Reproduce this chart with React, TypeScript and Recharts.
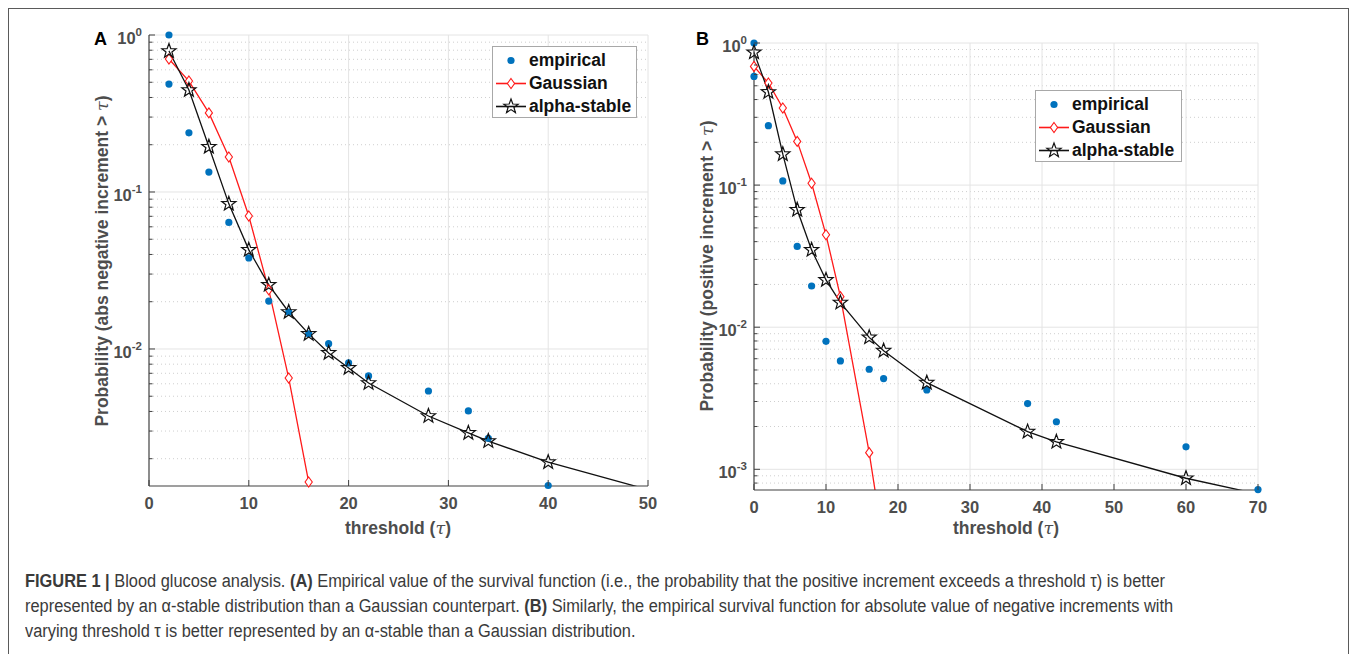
import { ComposedChart, Line, ReferenceLine, Scatter, XAxis, YAxis } from "recharts";

// ---- panel A : abs negative increments ----
const empiricalXA = [2, 2, 4, 6, 8, 10, 12, 14, 16, 18, 20, 22, 28, 32, 34, 40];
const empiricalA = [1.0, 0.487, 0.238, 0.134, 0.064, 0.038, 0.0202, 0.0172, 0.0125, 0.0108, 0.00815, 0.00673, 0.0054, 0.00403, 0.0027, 0.00135];
const gaussianXA = [2, 4, 6, 8, 10, 12, 14, 16];
const gaussianA = [0.703, 0.509, 0.319, 0.167, 0.0703, 0.0238, 0.00653, 0.00142];
const stableXA = [2, 4, 6, 8, 10, 12, 14, 16, 18, 20, 22, 28, 32, 34, 40];
const stableA = [0.79, 0.446, 0.194, 0.084, 0.0428, 0.0256, 0.0172, 0.01247, 0.00944, 0.00757, 0.00607, 0.00374, 0.00292, 0.00259, 0.0019];
const stableTailXA = [50];
const stableTailA = [0.00127];

// ---- panel B : positive increments ----
const empiricalXB = [0, 0, 2, 4, 6, 8, 10, 12, 16, 18, 24, 38, 42, 60, 70];
const empiricalB = [1.0, 0.582, 0.262, 0.107, 0.037, 0.0195, 0.00795, 0.00579, 0.00506, 0.00435, 0.00362, 0.0029, 0.00216, 0.00144, 0.00072];
const gaussianXB = [0, 2, 4, 6, 8, 10, 12, 16];
const gaussianB = [0.684, 0.523, 0.349, 0.203, 0.103, 0.0447, 0.0164, 0.00131];
const gaussianTailXB = [18];
const gaussianTailB = [0.00029];
const stableXB = [0, 2, 4, 6, 8, 10, 12, 16, 18, 24, 38, 42, 60];
const stableB = [0.859, 0.452, 0.165, 0.067, 0.035, 0.0215, 0.0149, 0.00848, 0.00683, 0.00407, 0.00184, 0.00156, 0.000865];
const stableTailXB = [70];
const stableTailB = [0.00067];

// ---- axes ----
const xTicksA = [0, 10, 20, 30, 40, 50];
const xTicksB = [0, 10, 20, 30, 40, 50, 60, 70];
const yDomainA: [number, number] = [0.00134, 1];
const yDomainB: [number, number] = [0.000715, 1];
const majorYA = [0.01, 0.1, 1];
const minorYA = [0.002, 0.003, 0.004, 0.005, 0.006, 0.007, 0.008, 0.009, 0.02, 0.03, 0.04, 0.05, 0.06, 0.07, 0.08, 0.09, 0.2, 0.3, 0.4, 0.5, 0.6, 0.7, 0.8, 0.9];
const majorYB = [0.001, 0.01, 0.1, 1];
const minorYB = [0.0008, 0.0009, 0.002, 0.003, 0.004, 0.005, 0.006, 0.007, 0.008, 0.009, 0.02, 0.03, 0.04, 0.05, 0.06, 0.07, 0.08, 0.09, 0.2, 0.3, 0.4, 0.5, 0.6, 0.7, 0.8, 0.9];

const legendLabels = ["empirical", "Gaussian", "alpha-stable"];

const C = {
  blue: "#0072bd",
  red: "#ff1a1a",
  black: "#111111",
  axis: "#404040",
  tickText: "#4d4d4d",
  grid: "#e4e4e4",
  minor: "#cfcfcf",
  font: "'Liberation Sans', Arial, Helvetica, sans-serif",
};
const TICK_GAP = 6;

const zip = (xs: number[], ys: number[]) => xs.map((x, i) => ({ x, y: ys[i] }));

function Star({ cx, cy }: { cx?: number; cy?: number }) {
  if (cx == null || cy == null) return null;
  const R = 7.5;
  const r = 3.1;
  const pts: string[] = [];
  for (let i = 0; i < 10; i++) {
    const a = -Math.PI / 2 + (i * Math.PI) / 5;
    const rad = i % 2 === 0 ? R : r;
    pts.push(`${cx + rad * Math.cos(a)},${cy + rad * Math.sin(a)}`);
  }
  return <polygon points={pts.join(" ")} fill="none" stroke={C.black} strokeWidth={1.2} />;
}

function Diamond({ cx, cy }: { cx?: number; cy?: number }) {
  if (cx == null || cy == null) return null;
  return (
    <polygon
      points={`${cx},${cy - 5} ${cx + 3.6},${cy} ${cx},${cy + 5} ${cx - 3.6},${cy}`}
      fill="#fff"
      stroke={C.red}
      strokeWidth={1.1}
    />
  );
}

function Dot({ cx, cy }: { cx?: number; cy?: number }) {
  if (cx == null || cy == null) return null;
  return <circle cx={cx} cy={cy} r={3.6} fill={C.blue} />;
}

function LogTick(props: any) {
  const { x, y, payload } = props;
  const v = payload.value as number;
  const lg = Math.log10(v);
  const exp = Math.round(lg);
  const major = Math.abs(lg - exp) < 1e-6;
  const ax = x + TICK_GAP;
  return (
    <g>
      <line x1={ax} x2={ax + (major ? 6 : 3.5)} y1={y} y2={y} stroke={C.axis} strokeWidth={1} />
      {major && (
        <text x={x - 1} y={y + 9} textAnchor="end" fill={C.tickText} fontFamily={C.font} fontWeight="bold" fontSize={16.5}>
          <tspan>10</tspan>
          <tspan dy={-8} fontSize={11.5}>{String(exp)}</tspan>
        </text>
      )}
    </g>
  );
}

function XTick(props: any) {
  const { x, y, payload } = props;
  const ay = y - TICK_GAP;
  return (
    <g>
      <line x1={x} x2={x} y1={ay} y2={ay - 6} stroke={C.axis} strokeWidth={1} />
      <text x={x} y={ay + 23} textAnchor="middle" fill={C.tickText} fontFamily={C.font} fontWeight="bold" fontSize={16.5}>
        {payload.value}
      </text>
    </g>
  );
}

type PanelProps = {
  width: number;
  height: number;
  margin: { top: number; right: number; bottom: number; left: number };
  xDomain: [number, number];
  xTicks: number[];
  yDomain: [number, number];
  majorY: number[];
  minorY: number[];
  empirical: { x: number; y: number }[];
  gaussLine: { x: number; y: number }[];
  gaussMarks: { x: number; y: number }[];
  stableLine: { x: number; y: number }[];
  stableMarks: { x: number; y: number }[];
};

function Panel(p: PanelProps) {
  const yTicks = [...p.majorY, ...p.minorY].sort((a, b) => a - b);
  const xGrid = p.xTicks.filter((t) => t !== p.xDomain[0]);
  return (
    <ComposedChart width={p.width} height={p.height} margin={p.margin}>
      <XAxis
        type="number"
        dataKey="x"
        domain={p.xDomain}
        ticks={p.xTicks}
        interval={0}
        tickSize={0}
        tickMargin={TICK_GAP}
        tickLine={false}
        tick={<XTick />}
        axisLine={{ stroke: C.axis, strokeWidth: 1.2 }}
        height={30}
      />
      <YAxis
        yAxisId="clip"
        type="number"
        dataKey="y"
        scale="log"
        domain={p.yDomain}
        allowDataOverflow
        ticks={yTicks}
        interval={0}
        tickSize={0}
        tickMargin={TICK_GAP}
        tickLine={false}
        tick={<LogTick />}
        axisLine={{ stroke: C.axis, strokeWidth: 1.2 }}
        width={60}
      />
      <YAxis yAxisId="free" type="number" dataKey="y" scale="log" domain={p.yDomain} hide />
      {p.minorY.map((v) => (
        <ReferenceLine key={`mn${v}`} yAxisId="clip" y={v} stroke={C.minor} strokeDasharray="1 3" strokeWidth={1} zIndex={-100} />
      ))}
      {p.majorY.map((v) => (
        <ReferenceLine key={`mj${v}`} yAxisId="clip" y={v} stroke={C.grid} strokeWidth={1} zIndex={-90} />
      ))}
      {xGrid.map((v) => (
        <ReferenceLine key={`vx${v}`} yAxisId="clip" x={v} stroke={C.grid} strokeWidth={1} zIndex={-90} />
      ))}
      <Scatter yAxisId="free" data={p.empirical} shape={(s: any) => <Dot cx={s.cx} cy={s.cy} />} isAnimationActive={false} />
      <Line yAxisId="clip" data={p.gaussLine} dataKey="y" type="linear" stroke={C.red} strokeWidth={1.3} dot={false} activeDot={false} isAnimationActive={false} />
      <Scatter yAxisId="free" data={p.gaussMarks} shape={(s: any) => <Diamond cx={s.cx} cy={s.cy} />} isAnimationActive={false} />
      <Line yAxisId="clip" data={p.stableLine} dataKey="y" type="linear" stroke={C.black} strokeWidth={1.3} dot={false} activeDot={false} isAnimationActive={false} />
      <Scatter yAxisId="free" data={p.stableMarks} shape={(s: any) => <Star cx={s.cx} cy={s.cy} />} isAnimationActive={false} />
    </ComposedChart>
  );
}

function LegendBox({ left, top, width }: { left: number; top: number; width: number }) {
  const rowH = 23;
  return (
    <div
      style={{
        position: "absolute",
        left,
        top,
        width,
        height: 72,
        border: "1px solid #a8a8a8",
        background: "#fff",
        boxSizing: "border-box",
      }}
    >
      {legendLabels.map((label, i) => (
        <div key={label} style={{ position: "absolute", left: 0, top: 2 + i * rowH, height: rowH, width: "100%" }}>
          <svg width={36} height={rowH} style={{ position: "absolute", left: 0, top: 0 }}>
            {i === 0 && <circle cx={18} cy={rowH / 2} r={3.6} fill={C.blue} />}
            {i === 1 && (
              <>
                <line x1={3} x2={33} y1={rowH / 2} y2={rowH / 2} stroke={C.red} strokeWidth={1.6} />
                <Diamond cx={18} cy={rowH / 2} />
              </>
            )}
            {i === 2 && (
              <>
                <line x1={3} x2={33} y1={rowH / 2} y2={rowH / 2} stroke={C.black} strokeWidth={1.6} />
                <Star cx={18} cy={rowH / 2} />
              </>
            )}
          </svg>
          <span
            style={{
              position: "absolute",
              left: 36,
              top: 0,
              lineHeight: `${rowH}px`,
              fontFamily: C.font,
              fontWeight: "bold",
              fontSize: 17.5,
              color: "#111",
              whiteSpace: "nowrap",
            }}
          >
            {label}
          </span>
        </div>
      ))}
    </div>
  );
}

const titleStyle = {
  position: "absolute" as const,
  fontFamily: C.font,
  fontWeight: "bold" as const,
  fontSize: 17.5,
  color: C.tickText,
  whiteSpace: "nowrap" as const,
};

function Tau() {
  return <span style={{ fontStyle: "italic", fontFamily: "'DejaVu Serif', serif", fontWeight: "normal" }}>τ</span>;
}

export default function App() {
  return (
    <div style={{ position: "fixed", left: 0, top: 0, width: 1357, height: 654, background: "#fff", overflow: "hidden" }}>
      <div style={{ position: "absolute", left: 8, top: 8, width: 1341, height: 700, border: "1px solid #5a5a5a", boxSizing: "border-box" }} />

      <div style={{ position: "absolute", left: 0, top: 0 }}>
        <Panel
          width={680}
          height={540}
          margin={{ top: 35, right: 32, bottom: 24, left: 89 }}
          xDomain={[0, 50]}
          xTicks={xTicksA}
          yDomain={yDomainA}
          majorY={majorYA}
          minorY={minorYA}
          empirical={zip(empiricalXA, empiricalA)}
          gaussLine={zip(gaussianXA, gaussianA)}
          gaussMarks={zip(gaussianXA, gaussianA)}
          stableLine={[...zip(stableXA, stableA), ...zip(stableTailXA, stableTailA)]}
          stableMarks={zip(stableXA, stableA)}
        />
      </div>
      <div style={{ position: "absolute", left: 680, top: 0 }}>
        <Panel
          width={640}
          height={540}
          margin={{ top: 43, right: 62, bottom: 20, left: 14 }}
          xDomain={[0, 70]}
          xTicks={xTicksB}
          yDomain={yDomainB}
          majorY={majorYB}
          minorY={minorYB}
          empirical={zip(empiricalXB, empiricalB)}
          gaussLine={[...zip(gaussianXB, gaussianB), ...zip(gaussianTailXB, gaussianTailB)]}
          gaussMarks={zip(gaussianXB, gaussianB)}
          stableLine={[...zip(stableXB, stableB), ...zip(stableTailXB, stableTailB)]}
          stableMarks={zip(stableXB, stableB)}
        />
      </div>

      <LegendBox left={492} top={46} width={145} />
      <LegendBox left={1035} top={90} width={147} />

      <div style={{ ...titleStyle, left: 94, top: 29, fontSize: 18, color: "#000" }}>A</div>
      <div style={{ ...titleStyle, left: 696, top: 29, fontSize: 18, color: "#000" }}>B</div>

      <div style={{ ...titleStyle, left: 102, top: 261, transform: "translate(-50%, -50%) rotate(-90deg)" }}>
        Probability (abs negative increment &gt; <Tau />)
      </div>
      <div style={{ ...titleStyle, left: 707, top: 266, transform: "translate(-50%, -50%) rotate(-90deg)" }}>
        Probability (positive increment &gt; <Tau />)
      </div>
      <div style={{ ...titleStyle, left: 398, top: 528, transform: "translate(-50%, -50%)" }}>
        threshold (<Tau />)
      </div>
      <div style={{ ...titleStyle, left: 1006, top: 528, transform: "translate(-50%, -50%)" }}>
        threshold (<Tau />)
      </div>

      <div
        style={{
          position: "absolute",
          left: 25,
          top: 569,
          fontFamily: "'Liberation Sans', Arial, sans-serif",
          fontSize: 18,
          lineHeight: "25px",
          color: "#3a3a3a",
          whiteSpace: "nowrap",
          transform: "scaleX(0.91)",
          transformOrigin: "0 0",
        }}
      >
        <div>
          <b>FIGURE 1 |</b> Blood glucose analysis. <b>(A)</b> Empirical value of the survival function (i.e., the probability that the positive increment exceeds a threshold τ) is better
        </div>
        <div>
          represented by an α-stable distribution than a Gaussian counterpart. <b>(B)</b> Similarly, the empirical survival function for absolute value of negative increments with
        </div>
        <div>varying threshold τ is better represented by an α-stable than a Gaussian distribution.</div>
      </div>
    </div>
  );
}
